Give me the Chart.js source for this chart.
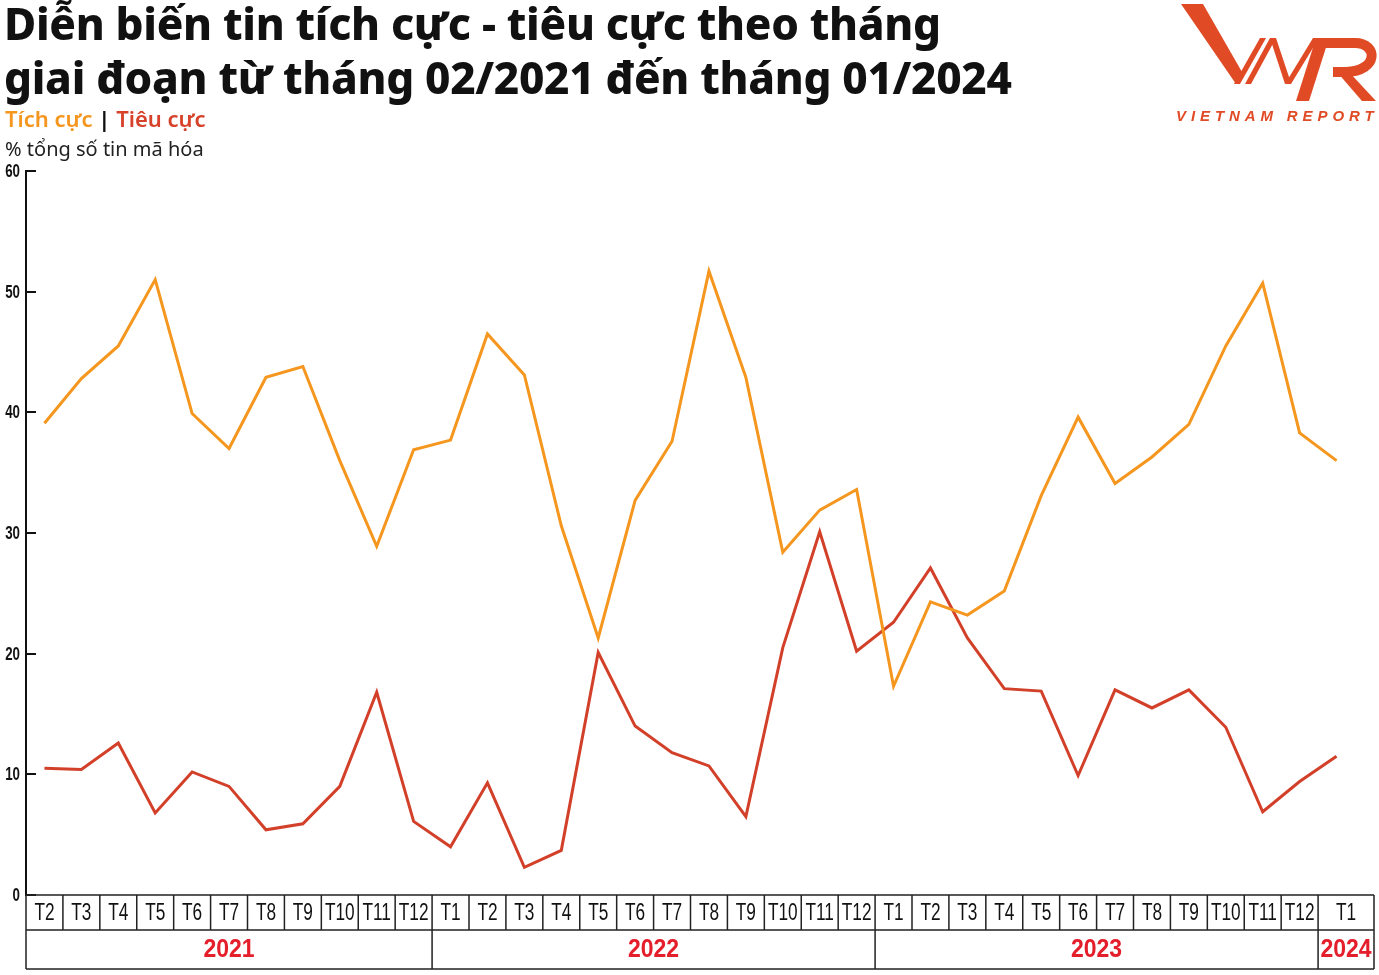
<!DOCTYPE html>
<html>
<head>
<meta charset="utf-8">
<script src="https://cdn.jsdelivr.net/npm/chart.js@4"></script>
<style>
  body { margin: 0; background: #fff; }
  #wrap { position: relative; width: 1379px; height: 975px; overflow: hidden; }
  canvas { position: absolute; left: 0; top: 0; }
  .title { position: absolute; left: 4px; top: -4px; font-family: "Noto Sans", sans-serif; font-weight: 800;
           font-size: 44px; line-height: 54px; color: #111; letter-spacing: -0.3px; white-space: nowrap; }
  .legend { position: absolute; left: 5px; top: 103px; font-family: "Noto Sans", sans-serif; font-weight: 600;
            font-size: 22px; white-space: nowrap; }
  .legend b { color: #111; font-weight: 700; }
  .sub { position: absolute; left: 5px; top: 135px; font-family: "Noto Sans", sans-serif; font-size: 20px;
         color: #222; white-space: nowrap; }
  .logo { position: absolute; left: 1150px; top: 0; }
  .logo-text { position: absolute; left: 1176px; top: 107px; font-family: "Liberation Sans", sans-serif;
               font-style: italic; font-weight: 700; font-size: 15px; letter-spacing: 4.9px; color: #E04B25; white-space: nowrap; }
</style>
</head>
<body>
<div id="wrap">
  <canvas id="chart" width="1379" height="975"></canvas>
  <div class="title">Diễn biến tin tích cực - tiêu cực theo tháng<br>giai đoạn từ tháng 02/2021 đến tháng 01/2024</div>
  <div class="legend"><span style="color:#F5961E">Tích cực</span> <b>|</b> <span style="color:#D7432A">Tiêu cực</span></div>
  <div class="sub">% tổng số tin mã hóa</div>
  <svg class="logo" width="229" height="106" viewBox="0 0 229 106">
    <g fill="#E04B25">
      <polygon points="31,4 53,4 92,72 86,84"/>
      <polygon points="84,84 90,84 116,38 110,38"/>
      <polygon points="95,84 101,84 126,38 120,38"/>
      <polygon points="120,38 126,38 140,80 135,84"/>
      <polygon points="135,84 141,84 169,38 163,38"/>
      <polygon points="166,38 179,38 159,101 146,101"/>
      <polygon points="187,72 199,72 226,101 212,101"/>
    </g>
    <path d="M172 43 H205 C228 43 229 71 196 72 H183" fill="none" stroke="#E04B25" stroke-width="10"/>
  </svg>
  <div class="logo-text">VIETNAM REPORT</div>
</div>
<script>
const months = ["T2", "T3", "T4", "T5", "T6", "T7", "T8", "T9", "T10", "T11", "T12",
  "T1", "T2", "T3", "T4", "T5", "T6", "T7", "T8", "T9", "T10", "T11", "T12",
  "T1", "T2", "T3", "T4", "T5", "T6", "T7", "T8", "T9", "T10", "T11", "T12",
  "T1"];
const years = ["2021", "2022", "2023", "2024"];
const monthsPerYear = [11, 12, 12, 1];

const positive = [39.1, 42.8, 45.5, 51.0, 39.9, 37.0, 42.9, 43.8, 36.0, 28.9, 36.9,
  37.7, 46.5, 43.1, 30.6, 21.3, 32.7, 37.6, 51.7, 42.9, 28.4, 31.9, 33.6,
  17.3, 24.3, 23.2, 25.2, 33.1, 39.6, 34.1, 36.3, 39.0, 45.5, 50.7, 38.3,
  36.0];
const negative = [10.5, 10.4, 12.6, 6.8, 10.2, 9.0, 5.4, 5.9, 9.0, 16.8, 6.1,
  4.0, 9.3, 2.3, 3.7, 20.1, 14.0, 11.8, 10.7, 6.5, 20.5, 30.1, 20.2,
  22.6, 27.1, 21.3, 17.1, 16.9, 9.9, 17.0, 15.5, 17.0, 13.9, 6.9, 9.4,
  11.5];

const yTicks = [0, 10, 20, 30, 40, 50, 60];

// narrow text: the source uses a condensed face, squeeze a normal one
function squeeze(ctx, text, px, py, sx) {
  ctx.save();
  ctx.translate(px, py);
  ctx.scale(sx, 1);
  ctx.fillText(text, 0, 0);
  ctx.restore();
}

// month/year table under the plot + y labels and inner tick marks
const tablePlugin = {
  id: "table",
  afterDraw(chart) {
    const ctx = chart.ctx;
    const x = chart.scales.x;
    const y = chart.scales.y;
    const area = chart.chartArea;
    const half = (x.getPixelForValue(1) - x.getPixelForValue(0)) / 2;
    const right = chart.width - 5;
    const y0 = area.bottom, y1 = y0 + 35, y2 = y0 + 74;

    ctx.save();
    ctx.strokeStyle = "#111";
    ctx.fillStyle = "#111";
    ctx.lineWidth = 2;
    ctx.font = "bold 18px 'Liberation Sans', sans-serif";
    ctx.textAlign = "right";
    ctx.textBaseline = "middle";
    yTicks.forEach(v => {
      const py = Math.round(y.getPixelForValue(v));
      ctx.beginPath();
      ctx.moveTo(area.left, py);
      ctx.lineTo(area.left + 10, py);
      ctx.stroke();
      squeeze(ctx, String(v), 20, py + 1, 0.74);
    });

    ctx.lineWidth = 1.5;
    ctx.strokeStyle = "#222";
    ctx.beginPath();
    ctx.moveTo(area.left, y0); ctx.lineTo(right, y0);
    ctx.moveTo(area.left, y1); ctx.lineTo(right, y1);
    ctx.moveTo(area.left, y2); ctx.lineTo(right, y2);
    ctx.moveTo(area.left, y0); ctx.lineTo(area.left, y2);
    ctx.moveTo(right, y0); ctx.lineTo(right, y2);
    for (let i = 1; i < months.length; i++) {
      const bx = x.getPixelForValue(i) - half;
      ctx.moveTo(bx, y0); ctx.lineTo(bx, y1);
    }
    let idx = 0;
    monthsPerYear.forEach((n, k) => {
      idx += n;
      if (k < monthsPerYear.length - 1) {
        const bx = x.getPixelForValue(idx) - half;
        ctx.moveTo(bx, y1); ctx.lineTo(bx, y2);
      }
    });
    ctx.stroke();

    ctx.font = "23px 'Liberation Sans', sans-serif";
    ctx.textAlign = "center";
    months.forEach((m, i) => {
      let cx = x.getPixelForValue(i);
      if (i === months.length - 1) cx = (cx - half + right) / 2;
      squeeze(ctx, m, cx, (y0 + y1) / 2 + 1, 0.75);
    });

    ctx.fillStyle = "#E41E2B";
    ctx.font = "bold 25px 'Liberation Sans', sans-serif";
    let start = 0;
    monthsPerYear.forEach((n, k) => {
      const l = x.getPixelForValue(start) - half;
      const r = k === monthsPerYear.length - 1 ? right : x.getPixelForValue(start + n) - half;
      squeeze(ctx, years[k], (l + r) / 2, (y1 + y2) / 2 + 1, 0.92);
      start += n;
    });
    ctx.restore();
  }
};

new Chart(document.getElementById("chart"), {
  type: "line",
  data: {
    labels: months,
    datasets: [
      { label: "Tích cực", data: positive, borderColor: "#F5961E", borderWidth: 3, pointRadius: 0, tension: 0 },
      { label: "Tiêu cực", data: negative, borderColor: "#D3402A", borderWidth: 3, pointRadius: 0, tension: 0 },
    ],
  },
  options: {
    responsive: false,
    animation: false,
    layout: { padding: { top: 171, right: 24, bottom: 80, left: 0 } },
    plugins: { legend: { display: false }, tooltip: { enabled: false } },
    scales: {
      x: { display: false, offset: true },
      y: {
        min: 0,
        max: 60,
        afterFit: (scale) => { scale.width = 26; },
        grid: { display: false, drawTicks: false },
        border: { display: true, color: "#111", width: 2 },
        ticks: { display: false, stepSize: 10 },
      },
    },
  },
  plugins: [tablePlugin],
});
</script>
</body>
</html>
